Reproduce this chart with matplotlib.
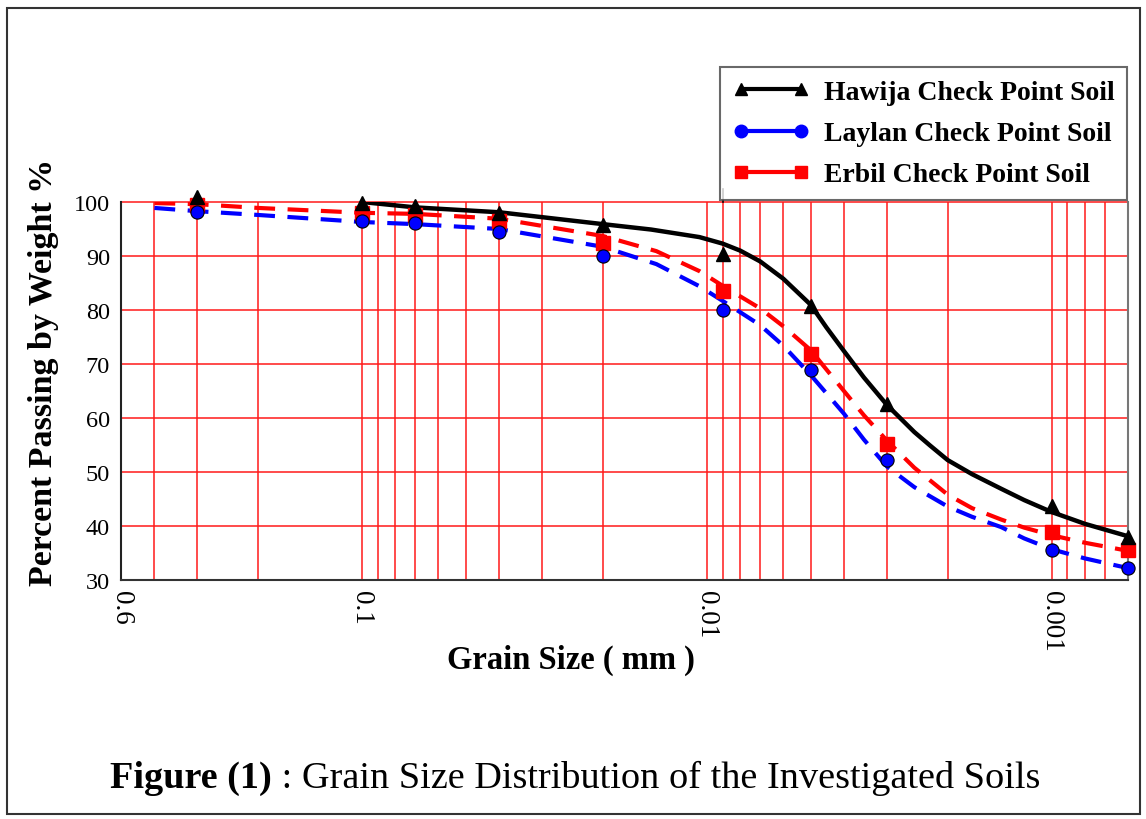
import matplotlib
matplotlib.use("Agg")
import matplotlib.pyplot as plt
from matplotlib.lines import Line2D
from matplotlib.patches import Rectangle
from matplotlib.font_manager import FontProperties

# ---------------- data ----------------
sieve_x = [0.3, 0.1, 0.07, 0.04, 0.02, 0.009, 0.005, 0.003, 0.001, 0.0006]
hawija_pts = [101.0, 99.9, 99.2, 98.0, 95.8, 90.3, 80.7, 62.6, 43.7, 38.0]
laylan_pts = [98.2, 96.4, 96.1, 94.5, 90.0, 80.0, 68.9, 52.2, 35.6, 32.3]
erbil_pts = [99.5, 97.9, 97.6, 96.5, 92.5, 83.6, 71.9, 55.2, 38.9, 35.6]

hawija_curve_x = [0.1, 0.07, 0.04, 0.02, 0.0145, 0.0105, 0.009, 0.008, 0.007,
                  0.006, 0.005, 0.0045, 0.004, 0.0035, 0.003, 0.0025, 0.00225,
                  0.002, 0.0017, 0.0014, 0.0012, 0.001, 0.0008, 0.0006]
hawija_curve_y = [100.0, 99.0, 98.1, 95.9, 94.9, 93.5, 92.3, 91.0, 89.0,
                  85.8, 81.0, 76.8, 72.4, 67.5, 62.4, 57.4, 54.9,
                  52.2, 49.6, 46.9, 44.8, 42.6, 40.4, 38.1]

laylan_curve_x = [0.4, 0.3, 0.2, 0.1, 0.07, 0.04, 0.02, 0.014, 0.0105, 0.009,
                  0.007, 0.006, 0.005, 0.004, 0.0035, 0.003, 0.0025, 0.002,
                  0.0017, 0.0014, 0.0012, 0.001, 0.0008, 0.0006]
laylan_curve_y = [98.9, 98.3, 97.6, 96.3, 95.9, 95.0, 91.7, 88.5, 84.4, 81.7,
                  77.2, 73.4, 68.0, 60.8, 56.0, 51.0, 47.2, 43.6,
                  41.7, 39.8, 37.7, 35.7, 34.0, 32.2]

erbil_curve_x = [0.4, 0.3, 0.2, 0.1, 0.07, 0.04, 0.02, 0.014, 0.0105, 0.009,
                 0.007, 0.006, 0.005, 0.004, 0.0035, 0.003, 0.0025, 0.002,
                 0.0017, 0.0014, 0.0012, 0.001, 0.0008, 0.0006]
erbil_curve_y = [99.8, 99.6, 98.9, 98.0, 97.8, 96.9, 93.7, 90.9, 87.2, 84.5,
                 80.3, 77.0, 72.6, 65.0, 60.5, 55.8, 50.8, 45.8,
                 43.3, 41.2, 39.7, 38.3, 36.9, 35.4]

x_major = [0.5, 0.1, 0.01, 0.001]
x_major_labels = ["0.6", "0.1", "0.01", "0.001"]
x_minor = [0.4, 0.3, 0.2,
           0.09, 0.08, 0.07, 0.06, 0.05, 0.04, 0.03, 0.02,
           0.009, 0.008, 0.007, 0.006, 0.005, 0.004, 0.003, 0.002,
           0.0009, 0.0008, 0.0007]
y_ticks = [30, 40, 50, 60, 70, 80, 90, 100]

series_names = ["Hawija Check Point Soil", "Laylan Check Point Soil",
                "Erbil Check Point Soil"]

# ---------------- figure ----------------
W, H = 1146, 820
fig = plt.figure(figsize=(W / 100, H / 100), dpi=100)
fig.patch.set_facecolor("white")
serif = "Liberation Serif"

ax = fig.add_axes([121 / W, (H - 581) / H, 1007 / W, 378 / H])
ax.set_xscale("log")
ax.set_xlim(0.5, 0.0006)
ax.set_ylim(30, 100)

ax.set_xticks(x_major)
ax.set_xticklabels(x_major_labels, rotation=270, va="top", ha="center",
                   family=serif, fontsize=19.5)
ax.set_xticks(x_minor, minor=True)
ax.set_xticklabels([], minor=True)
ax.set_yticks(y_ticks)
ax.set_yticklabels([str(v) for v in y_ticks], family=serif, fontsize=17.5)
ax.tick_params(axis="both", which="both", length=0)
ax.tick_params(axis="y", pad=8)
ax.tick_params(axis="x", pad=7)

ax.grid(True, which="both", axis="x", color="#ff1a1a", lw=1.1, zorder=1)
ax.grid(True, which="major", axis="y", color="#ff1a1a", lw=1.1, zorder=1)
for gl in ax.get_ygridlines():
    gl.set_clip_on(False)
ax.set_axisbelow(True)

ax.spines["top"].set_visible(False)
ax.spines["left"].set_color("#222222")
ax.spines["bottom"].set_color("#333333")
ax.spines["right"].set_color("#777777")
for s in ("left", "bottom", "right"):
    ax.spines[s].set_linewidth(1.5)

# curves
ax.plot(hawija_curve_x, hawija_curve_y, color="black", lw=3.2, zorder=4,
        solid_capstyle="round", solid_joinstyle="round")
ax.plot(laylan_curve_x, laylan_curve_y, color="#0000ff", lw=3.0, zorder=3,
        dashes=(5, 3))
ax.plot(erbil_curve_x, erbil_curve_y, color="#ff0000", lw=3.0, zorder=3,
        dashes=(5, 3))

# markers
ax.plot(sieve_x, erbil_pts, ls="none", marker="s", ms=9.5, color="#ff0000",
        mec="#ff0000", zorder=5, clip_on=False)
ax.plot(sieve_x, laylan_pts, ls="none", marker="o", ms=9.5, color="#0000ff",
        mec="black", mew=0.8, zorder=6, clip_on=False)
ax.plot(sieve_x, hawija_pts, ls="none", marker="^", ms=9.5, color="black",
        zorder=7, clip_on=False)

# small black tick above the plot at the 0.009 point
ax.plot([sieve_x[5], sieve_x[5]], [100, 102.4], color="black", lw=1.2,
        clip_on=False, zorder=2)

# legend
handles = [
    Line2D([], [], color="black", lw=3, marker="^", ms=9),
    Line2D([], [], color="#0000ff", lw=3, marker="o", ms=9),
    Line2D([], [], color="#ff0000", lw=3, marker="s", ms=9),
]
leg = fig.legend(handles, series_names, loc="upper left",
                 bbox_to_anchor=(720 / W, 1 - 68 / H),
                 bbox_transform=fig.transFigure, numpoints=2,
                 prop=FontProperties(family=serif, weight="bold", size=20),
                 frameon=True, fancybox=False, edgecolor="#444444",
                 handlelength=2.75, handletextpad=0.55, labelspacing=0.57,
                 borderpad=0.45, borderaxespad=0)
leg.get_frame().set_linewidth(1.5)

# axis titles
fig.text(44 / W, 1 - 372 / H, "Percent Passing by Weight %", rotation=90,
         ha="center", va="center", family=serif, weight="bold", fontsize=24.5)
fig.text(571 / W, 1 - 660 / H, "Grain Size ( mm )", ha="center",
         va="center", family=serif, weight="bold", fontsize=23.5)

# caption
renderer = fig.canvas.get_renderer()
t1 = fig.text(110 / W, 1 - 788 / H, "Figure (1)", ha="left", va="baseline",
              family=serif, weight="bold", fontsize=27.5)
bb = t1.get_window_extent(renderer=renderer)
fig.text(bb.x1 / W, 1 - 788 / H, " : Grain Size Distribution of the Investigated Soils",
         ha="left", va="baseline", family=serif, fontsize=27.5)

# outer border
fig.patches.append(Rectangle((7 / W, 1 - 815 / H), (1140 - 7) / W,
                             (815 - 9) / H, transform=fig.transFigure,
                             fill=False, edgecolor="#333333", lw=1.5))

fig.savefig("out.png", dpi=100)
